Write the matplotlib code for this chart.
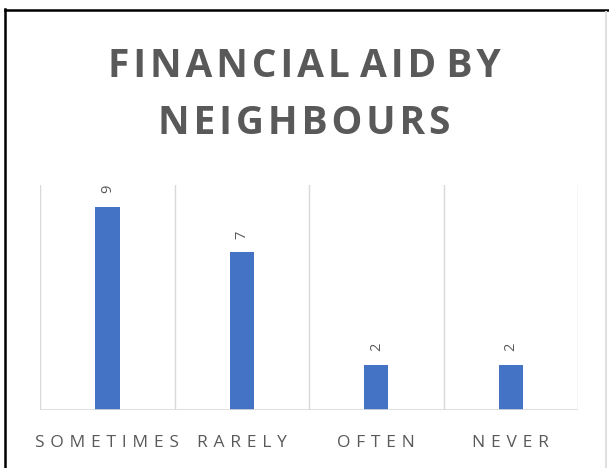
import matplotlib
matplotlib.use("Agg")
import matplotlib.pyplot as plt

categories = ["SOMETIMES", "RARELY", "OFTEN", "NEVER"]
counts = [9, 7, 2, 2]
title_lines = ["FINANCIAL AID BY", "NEIGHBOURS"]

BAR_COLOR = "#4472C4"
TEXT_COLOR = "#595959"
GRID_COLOR = "#D9D9D9"
FONTS = ["Open Sans", "DejaVu Sans"]


def spaced(text, gap="\u2009"):
    """Spread the letters of each word out a little, like tracked text."""
    return " ".join(gap.join(word) for word in text.split(" "))


fig = plt.figure(figsize=(6.09, 4.68), dpi=100)
fig.patch.set_facecolor("white")

# outer frame: dark on left and top, faint on right
fig.add_artist(plt.Line2D([0.0085, 0.0085], [0, 0.98], color="black", lw=1.8,
                          transform=fig.transFigure))
fig.add_artist(plt.Line2D([0.0085, 1.0], [0.979, 0.979], color="black", lw=1.8,
                          transform=fig.transFigure))
fig.add_artist(plt.Line2D([0.995, 0.995], [0, 0.975], color="#E0E0E0", lw=1.5,
                          transform=fig.transFigure))

ax = fig.add_axes([0.066, 0.124, 0.883, 0.481])
x = list(range(len(categories)))
ax.bar(x, counts, width=0.18, color=BAR_COLOR, zorder=3)

ax.set_xlim(-0.5, len(categories) - 0.5)
ax.set_ylim(0, 10)

# vertical separators between categories
for b in [i - 0.5 for i in range(len(categories) + 1)]:
    ax.axvline(b, color=GRID_COLOR, lw=1, zorder=1)

for s in ax.spines.values():
    s.set_visible(False)
ax.axhline(0, color=GRID_COLOR, lw=1.2, zorder=4)

ax.set_yticks([])
ax.set_xticks(x)
ax.set_xticklabels([spaced(c, "\u2009\u2009") for c in categories], family=FONTS,
                   fontsize=12.5, color=TEXT_COLOR)
ax.tick_params(axis="x", length=0, pad=18)

for xi, v in zip(x, counts):
    ax.annotate(str(v), (xi, v), xytext=(0, 10), textcoords="offset points",
                ha="center", va="bottom", rotation=90, fontsize=10.5,
                color=TEXT_COLOR, family=FONTS)

for y, line in zip([0.858, 0.737], title_lines):
    fig.text(0.5, y, spaced(line, "\u200a"), ha="center", va="center",
             fontsize=28, fontweight="bold", color=TEXT_COLOR, family=FONTS)

fig.savefig("out.png", dpi=100)
